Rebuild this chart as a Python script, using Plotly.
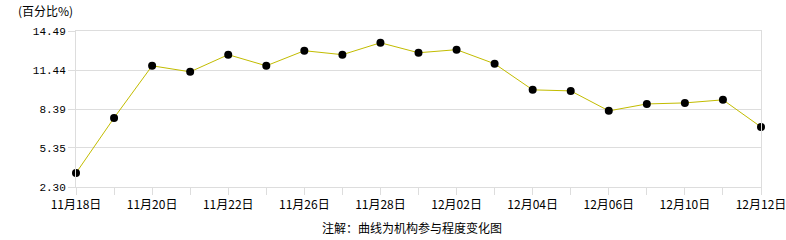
import plotly.graph_objects as go

dates = ["11月18日", "11月19日", "11月20日", "11月21日", "11月22日", "11月25日",
         "11月26日", "11月27日", "11月28日", "11月29日", "12月02日", "12月03日",
         "12月04日", "12月05日", "12月06日", "12月09日", "12月10日", "12月11日",
         "12月12日"]
values = [3.39, 7.70, 11.77, 11.30, 12.64, 11.77, 12.95, 12.64, 13.57, 12.79,
          13.03, 11.93, 9.89, 9.81, 8.25, 8.79, 8.87, 9.11, 6.99]
y_ticks = [2.30, 5.35, 8.39, 11.44, 14.49]
title_text = "(百分比%)"
note_text = "注解：曲线为机构参与程度变化图"

idx = list(range(len(dates)))
tick_text = [d if i % 2 == 0 else "" for i, d in enumerate(dates)]

FONT = "SimSun, 'Noto Sans CJK SC', sans-serif"
MONO = "'Liberation Mono', 'DejaVu Sans Mono', monospace"

fig = go.Figure()
fig.add_trace(go.Scatter(
    x=idx, y=values, mode="lines+markers",
    line=dict(color="#C2BC00", width=1),
    marker=dict(color="#000000", size=8),
    hoverinfo="skip", cliponaxis=False,
))

fig.update_layout(
    width=786, height=240,
    margin=dict(l=76, r=25, t=31, b=53, autoexpand=False),
    paper_bgcolor="white", plot_bgcolor="white",
    showlegend=False,
    font=dict(family=FONT, size=12, color="#000000"),
    title=dict(text=title_text, x=18 / 786, xanchor="left", xref="container",
               y=1 - 12 / 240, yanchor="middle", yref="container",
               font=dict(family=FONT, size=12, color="#000000")),
    annotations=[dict(text=note_text, xref="paper", yref="paper",
                      x=0.49, y=-0.26, xanchor="center", yanchor="middle",
                      showarrow=False,
                      font=dict(family=FONT, size=12, color="#000000"))],
)
fig.update_xaxes(
    range=[0, len(dates) - 1], tickmode="array", tickvals=idx, ticktext=tick_text,
    ticks="outside", ticklen=7, tickcolor="#DDDDDD", showgrid=False,
    showline=True, linecolor="#DDDDDD", linewidth=1, mirror=True,
    zeroline=False, ticklabeloverflow="allow", automargin=False,
    tickfont=dict(family=FONT, size=12, color="#000000"),
)
fig.update_yaxes(
    range=[y_ticks[0], y_ticks[-1]], tickmode="array", tickvals=y_ticks,
    ticktext=[f"{v:.2f}" for v in y_ticks],
    ticks="outside", ticklen=7, tickcolor="#DDDDDD",
    showgrid=True, gridcolor="#DDDDDD", gridwidth=1,
    showline=True, linecolor="#DDDDDD", linewidth=1, mirror=True,
    zeroline=False, ticklabeloverflow="allow", automargin=False,
    tickfont=dict(family=MONO, size=11, color="#000000"),
)
fig.write_html("out.html")
